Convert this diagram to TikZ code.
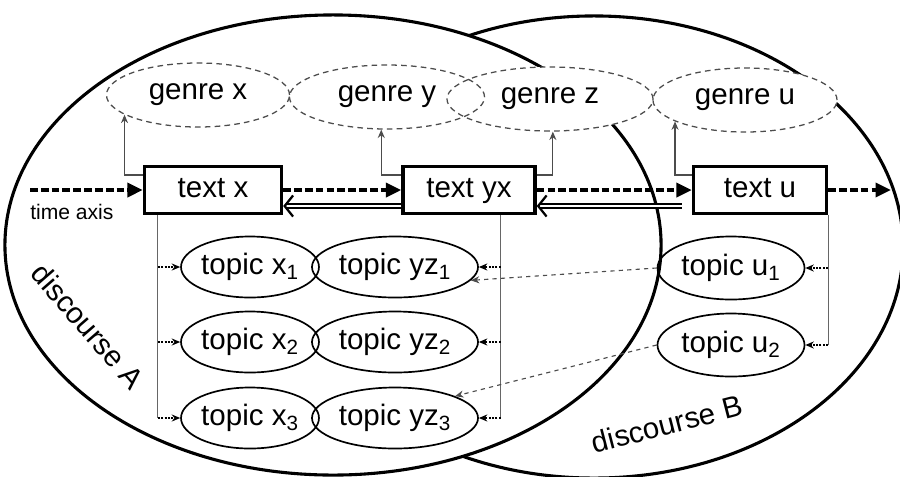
\documentclass[tikz,border=0pt]{standalone}
\usepackage{fontspec}
\setmainfont{Liberation Sans}
\usetikzlibrary{shapes.geometric, arrows.meta}
\tikzstyle{discourse} = [ellipse, draw=black, line width=2.2pt, fill=white, inner sep=0]
\tikzstyle{textbox} = [rectangle, draw=black, line width=2.4pt, fill=white, minimum height=1.175cm, inner sep=0, text height=15pt, text depth=4pt]
\tikzstyle{genrebg} = [ellipse, fill=white, minimum height=1.6cm, inner sep=0]
\tikzstyle{genre} = [ellipse, draw=black!70, dash pattern=on 4pt off 3pt, line width=0.9pt, minimum height=1.6cm, inner sep=0]
\tikzstyle{topic} = [ellipse, draw=black, line width=1.2pt, minimum height=1.525cm, inner sep=0]
\tikzstyle{timearrow} = [line width=2.5pt, dash pattern=on 5.5pt off 2.2pt, -{Triangle[length=11pt,width=10pt]}]
\tikzstyle{backarrow} = [double, double distance=1.4pt, line width=1.1pt, -{Straight Barb[length=6pt, width=15pt, line width=1.6pt]}]
\tikzstyle{genrearrow} = [black!70, line width=0.8pt, -{Stealth[length=6pt,width=5pt]}]
\tikzstyle{vline} = [black!60, line width=0.9pt]
\tikzstyle{topicarrow} = [line width=1.4pt, densely dotted, -{Stealth[length=6pt,width=5pt]}]
\tikzstyle{crossarrow} = [black!70, line width=0.8pt, dashed, -{Stealth[length=6pt,width=5pt]}]

\begin{document}
\begin{tikzpicture}[x=0.025cm, y=-0.025cm, every node/.style={font=\fontsize{21}{25}\selectfont}]
        \useasboundingbox (0,0) rectangle (900,476);

        % the two discourses
        \node[discourse, minimum width=15.45cm, minimum height=11.55cm] (dB) at (594,247) {};
        \node[discourse, minimum width=16.4cm, minimum height=11.5cm] (dA) at (333,245) {};

        % genres
        \foreach \n/\x/\y/\w/\t in {gx/198/95/4.575/x, gy/387/97/4.875/y, gz/550/99/5.15/z, gu/745/100/4.6/u}
        {\node[genrebg, minimum width=\w cm] (\n-bg) at (\x,\y) {};}
        \foreach \n/\x/\y/\w/\t in {gx/198/95/4.575/x, gy/387/97/4.875/y, gz/550/99/5.15/z, gu/745/100/4.6/u}
        {\node[genre, minimum width=\w cm] (\n) at (\x,\y) {genre \t};}

        % texts
        \node[textbox, minimum width=3.425cm] (tx) at (213,190) {text x};
        \node[textbox, minimum width=3.3cm] (tyx) at (469,190) {text yx};
        \node[textbox, minimum width=3.325cm] (tu) at (760,190) {text u};

        % topics
        \foreach \i/\y in {1/267, 2/342, 3/418}
        {\node[topic, minimum width=3.375cm] (tx\i) at (250,\y) {topic x\textsubscript{\i}};
         \node[topic, minimum width=4.15cm] (tyz\i) at (395,\y) {topic yz\textsubscript{\i}};}
        \foreach \i/\y in {1/268, 2/345}
        {\node[topic, minimum width=3.675cm, minimum height=1.575cm] (tu\i) at (731,\y) {topic u\textsubscript{\i}};}

        \node[rotate=-49] (lA) at (88,326) {discourse A};
        \node[rotate=14.5] (lB) at (667,424) {discourse B};
        \node[font=\fontsize{15}{18}\selectfont, anchor=north west, inner sep=0] (lt) at (30,204) {time axis};

        % time axis
        \coordinate (tstart) at (30,190);
        \coordinate (tend) at (891,190);
        \draw[timearrow] (tstart) -- (tx.west);
        \draw[timearrow] (tx.east) -- (tyx.west);
        \draw[timearrow] (tyx.east) -- (tu.west);
        \draw[timearrow] (tu.east) -- (tend);
        \draw[backarrow] ([yshift=-0.4cm]tyx.west) -- ([yshift=-0.4cm]tx.east);
        \draw[backarrow] ([xshift=-0.25cm,yshift=-0.4cm]tu.west) -- ([yshift=-0.4cm]tyx.east);

        % texts to genres
        \draw[genrearrow] ([yshift=0.375cm]tx.west) -| (gx.195);
        \draw[genrearrow] ([yshift=0.375cm]tyx.west) -| (gy.260);
        \draw[genrearrow] ([yshift=0.375cm]tyx.east) -| (gz.275);
        \draw[genrearrow] ([yshift=0.375cm]tu.west) -| (gu.197);

        % texts to topics
        \coordinate (lx) at ([xshift=0.375cm]tx.south west);
        \draw[vline] (lx) -- (lx |- tx3.west);
        \foreach \i in {1,2,3}
        {\draw[topicarrow] (lx |- tx\i.west) -- (tx\i.west);}
        \coordinate (lyz) at ([xshift=-0.9cm]tyx.south east);
        \draw[vline] (lyz) -- (lyz |- tyz3.east);
        \foreach \i in {1,2,3}
        {\draw[topicarrow] (lyz |- tyz\i.east) -- (tyz\i.east);}
        \coordinate (lu) at (tu.south east);
        \draw[vline] (lu) -- (lu |- tu2.east);
        \foreach \i in {1,2}
        {\draw[topicarrow] (lu |- tu\i.east) -- (tu\i.east);}

        \draw[crossarrow] (tu1.west) -- (tyz1.350);
        \draw[crossarrow] (tu2.west) -- (tyz3.20);
\end{tikzpicture}
\end{document}
